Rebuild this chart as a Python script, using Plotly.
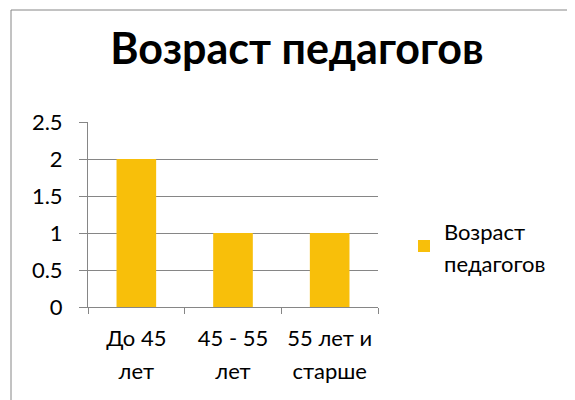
import plotly.graph_objects as go

categories = ["До 45<br>лет", "45 - 55<br>лет", "55 лет и<br>старше"]
values = [2, 1, 1]
series_name = "Возраст<br>педагогов"
title_text = "Возраст педагогов"
y_ticks = [0, 0.5, 1, 1.5, 2, 2.5]
y_ticktext = ["0", "0.5", "1", "1.5", "2", "2.5"]

FONT = "Lato, Open Sans, sans-serif"
OFF = 8  # page body margin offset
TS = 22  # visible tick font size


def sz(t, s=TS):
    return "<br>".join(f'<span style="font-size:{s}px">{p}</span>' for p in t.split("<br>"))


fig = go.Figure()
fig.add_trace(go.Bar(
    x=[sz(c) for c in categories], y=values, name=sz(series_name),
    marker=dict(color="#F8BF0A", line=dict(width=0)),
    width=0.41,
    showlegend=True,
))

L, T, W, H = 88 - OFF, 122 - OFF, 290, 185
fig.update_layout(
    width=575, height=400,
    margin=dict(l=L, r=575 - L - W, t=T, b=400 - T - H, pad=0),
    paper_bgcolor="white", plot_bgcolor="white",
    title=dict(text="<b>" + title_text + "</b>", x=(297 - OFF) / 575, xanchor="center",
               y=1 - (49 - OFF) / 400, yanchor="middle",
               font=dict(family=FONT, size=43, color="black")),
    font=dict(family=FONT, size=TS, color="black"),
    showlegend=True,
    legend=dict(x=(404 - 88) / 290, y=(307 - 207) / 185, xanchor="left", yanchor="top",
                font=dict(family=FONT, size=25, color="black"),
                bgcolor="rgba(0,0,0,0)", itemwidth=30),
    xaxis=dict(showgrid=False, showline=True, linecolor="#868686", linewidth=1,
               ticks="outside", tickson="boundaries", ticklen=6, tickcolor="#868686",
               ticklabelstandoff=8,
               tickfont=dict(family=FONT, size=25, color="black")),
    yaxis=dict(range=[0, 2.5], tickvals=y_ticks, ticktext=y_ticktext,
               showgrid=True, gridcolor="#868686", gridwidth=1,
               showline=True, linecolor="#868686", linewidth=1,
               ticks="outside", ticklen=8, tickcolor="#868686",
               zeroline=False, ticklabelstandoff=12,
               tickfont=dict(family=FONT, size=TS, color="black")),
    shapes=[dict(type="rect", xref="paper", yref="paper",
                 x0=(11 - 88) / 290, x1=(573 - 88) / 290,
                 y0=(307 - 405) / 185, y1=(307 - 10) / 185,
                 line=dict(color="#868686", width=1), fillcolor="rgba(0,0,0,0)",
                 layer="below")],
    bargap=0.59,
)

fig.write_html("out.html")
